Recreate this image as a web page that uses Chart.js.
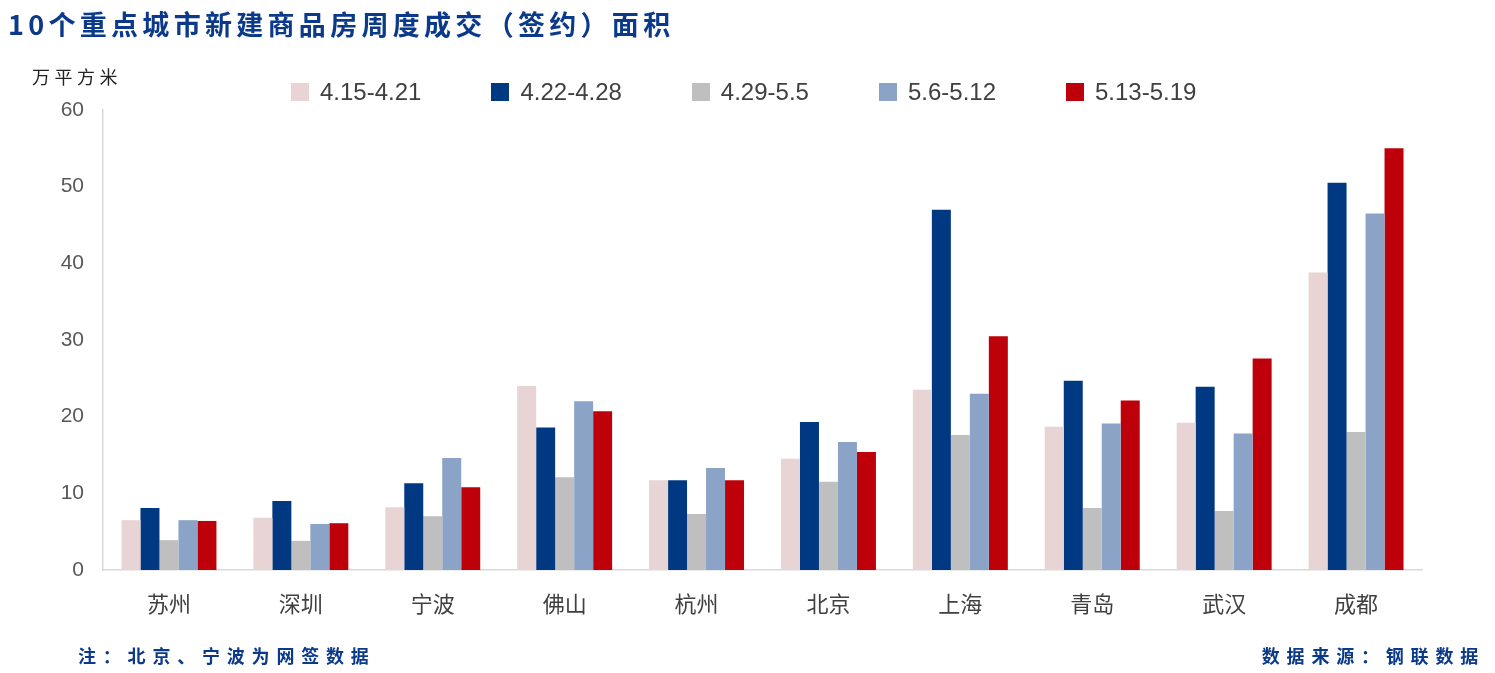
<!DOCTYPE html>
<html>
<head>
<meta charset="utf-8">
<script src="https://cdn.jsdelivr.net/npm/chart.js@4"></script>
<style>
  body { margin: 0; background: #fff; }
  #wrap { position: relative; width: 1495px; height: 673px; overflow: hidden; }
  #chart { position: absolute; left: 0; top: 0; }
  .txt { position: absolute; font-family: "Noto Sans CJK SC", sans-serif; white-space: nowrap; }
  #title { left: 8px; top: 4px; font-size: 27px; font-weight: 700; color: #0b3a8a; letter-spacing: 4.3px; }
  #unit { left: 32px; top: 63px; font-size: 18px; color: #222; letter-spacing: 4.5px; }
  #note { left: 78px; top: 642px; font-size: 18px; font-weight: 700; color: #0b3a8a; letter-spacing: 6.8px; }
  #source { right: 10px; top: 642px; font-size: 18px; font-weight: 700; color: #0b3a8a; letter-spacing: 6.8px; }
  #legend { position: absolute; left: 291px; top: 78px; display: flex; gap: 70px;
            font-family: "Liberation Sans", sans-serif; font-size: 24px; color: #404040; }
  #legend .item { display: flex; align-items: center; }
  #legend .box { width: 18px; height: 18px; margin-right: 11px; }
</style>
</head>
<body>
<div id="wrap">
  <canvas id="chart" width="1495" height="673"></canvas>
  <div class="txt" id="title">10个重点城市新建商品房周度成交（签约）面积</div>
  <div class="txt" id="unit">万平方米</div>
  <div id="legend"></div>
  <div class="txt" id="note">注：北京、宁波为网签数据</div>
  <div class="txt" id="source">数据来源：钢联数据</div>
</div>
<script>
// 城市
const cities = ['苏州', '深圳', '宁波', '佛山', '杭州', '北京', '上海', '青岛', '武汉', '成都']

// 各周成交面积，万平方米
const week1 = [6.5, 6.8, 8.2, 24.0, 11.7, 14.5, 23.5, 18.7, 19.2, 38.8]
const week2 = [8.1, 9.0, 11.3, 18.6, 11.7, 19.3, 47.0, 24.7, 23.9, 50.5]
const week3 = [3.9, 3.8, 7.0, 12.1, 7.3, 11.5, 17.6, 8.1, 7.7, 18.0]
const week4 = [6.5, 6.0, 14.6, 22.0, 13.3, 16.7, 23.0, 19.1, 17.8, 46.5]
const week5 = [6.4, 6.1, 10.8, 20.7, 11.7, 15.4, 30.5, 22.1, 27.6, 55.0]

const weekLabels = ['4.15-4.21', '4.22-4.28', '4.29-5.5', '5.6-5.12', '5.13-5.19']
const COLORS = ['#e8d4d4', '#003882', '#bfbfbf', '#8ba3c6', '#bd0009']

const series = [week1, week2, week3, week4, week5]

const datasets = series.map((values, i) => ({
    label: weekLabels[i],
    data: values,
    backgroundColor: COLORS[i],
    borderWidth: 0,
    categoryPercentage: 0.72,
    barPercentage: 1.0
}))

// легенда в HTML, из тех же подписей и цветов
const $legend = document.getElementById('legend')
weekLabels.forEach((label, i) => {
    const item = document.createElement('div')
    item.className = 'item'
    item.innerHTML = `<span class="box" style="background:${COLORS[i]}"></span><span>${label}</span>`
    $legend.appendChild(item)
})

const config = {
    type: 'bar',
    data: { labels: cities, datasets: datasets },
    options: {
        responsive: false,
        animation: false,
        layout: { padding: { top: 110, left: 0, right: 73, bottom: 0 } },
        scales: {
            x: {
                grid: { display: false, drawTicks: false },
                border: { display: true, color: '#d9d9d9', width: 1.5 },
                ticks: {
                    color: '#404040',
                    padding: 20,
                    font: { size: 22, family: '"Noto Sans CJK SC", sans-serif' }
                },
                afterFit: scale => { scale.height = 103 }
            },
            y: {
                min: 0,
                max: 60,
                grid: { display: false, drawTicks: false },
                border: { display: true, color: '#d9d9d9', width: 1.5 },
                ticks: {
                    stepSize: 10,
                    color: '#595959',
                    padding: 19,
                    font: { size: 21, family: '"Liberation Sans", sans-serif' }
                },
                afterFit: scale => { scale.width = 103 }
            }
        },
        plugins: {
            legend: { display: false },
            tooltip: { enabled: false }
        }
    }
}

new Chart(document.getElementById('chart').getContext('2d'), config)
</script>
</body>
</html>
